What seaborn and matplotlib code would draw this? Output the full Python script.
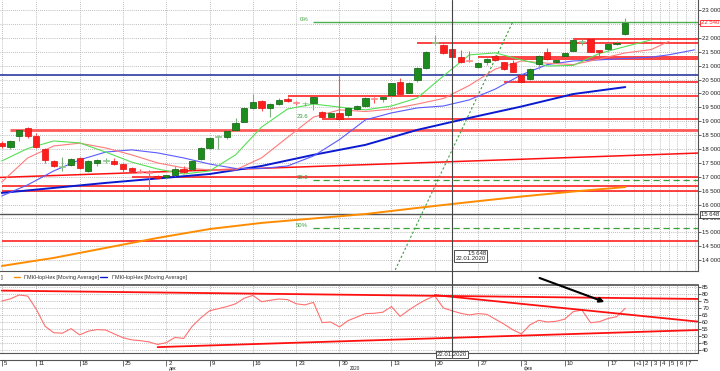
import matplotlib
matplotlib.use("Agg")
import matplotlib.pyplot as plt
import matplotlib.transforms as mtransforms
from matplotlib.lines import Line2D
import seaborn as sns
import pandas as pd
import numpy as np

# daily candles, trading day 0 = 5 Nov 2019 ... 72 = 19 Feb 2020
opens = [18220, 18070, 18470, 18760, 18470, 18000, 17570, 17350, 17430, 17680,
         17210, 17500, 17570, 17570, 17460, 17320, 17210, 17170, 17030, 16990,
         17070, 17280, 17280, 17640, 18040, 18440, 18440, 18690, 18990, 19470,
         19740, 19490, 19610, 19800, 19690, 19640, 19670, 19330, 19160, 19310,
         19230, 19430, 19540, 19840, 19800, 19930, 20410, 20030, 20490, 20910,
         21810, 21750, 21590, 21300, 21190, 20940, 21120, 21360, 21130, 21090,
         20670, 20510, 21050, 21500, 21120, 21350, 21540, 21850, 21950, 21570,
         21590, 21770, 22130]
highs = [18290, 18330, 18720, 18790, 18580, 18040, 17610, 17710, 17680, 17710,
         17610, 17640, 17680, 17680, 17500, 17350, 17280, 17250, 17070, 17080,
         17390, 17390, 17610, 18070, 18430, 18500, 18690, 19130, 19510, 19970,
         19770, 19640, 19850, 19880, 19740, 19700, 19910, 19370, 19310, 20680,
         19500, 19590, 19870, 19880, 19910, 20380, 20540, 20410, 20940, 21540,
         22110, 21780, 21620, 21560, 21540, 21130, 21260, 21380, 21150, 21220,
         20720, 20900, 21380, 21630, 21220, 21480, 22000, 21950, 21980, 21580,
         21800, 21900, 22700]
lows = [18040, 18000, 18290, 18400, 18040, 17500, 17350, 17210, 17390, 17280,
        17170, 17390, 17500, 17430, 17140, 17170, 17120, 16530, 16920, 16960,
        17030, 17140, 17250, 17600, 18000, 18000, 18360, 18650, 18960, 19440,
        19380, 19160, 19590, 19710, 19590, 19550, 19400, 19130, 19130, 19050,
        19160, 19400, 19510, 19640, 19700, 19880, 19970, 20000, 20420, 20880,
        21760, 21420, 21270, 21100, 21150, 20920, 21030, 21180, 20850, 20760,
        20400, 20490, 20870, 21220, 21100, 21330, 21520, 21750, 21490, 21230,
        21540, 21750, 22110]
closes = [18110, 18290, 18690, 18470, 18070, 17600, 17390, 17390, 17640, 17320,
          17570, 17610, 17610, 17460, 17280, 17210, 17170, 17150, 16960, 17050,
          17280, 17170, 17570, 18040, 18400, 18460, 18660, 18930, 19470, 19700,
          19470, 19610, 19770, 19740, 19670, 19660, 19890, 19170, 19290, 19070,
          19470, 19550, 19850, 19810, 19880, 20360, 19990, 20390, 20910, 21510,
          21840, 21450, 21300, 21120, 21170, 21110, 21240, 21200, 20870, 20780,
          20420, 20870, 21360, 21250, 21210, 21450, 21910, 21870, 21500, 21500,
          21780, 21830, 22540]
days = list(range(len(opens)))

# alligator lines (shifted forward past the last candle)
lips_days = list(range(0, 76, 3))
lips_vals = [17570, 18020, 18290, 18220, 17890, 17530, 17280, 17100, 17210, 17790,
             18790, 19440, 19620, 19510, 19410, 19550, 19840, 20630, 21390, 21460,
             21210, 20990, 21010, 21440, 21690, 21930]
teeth_days = list(range(0, 76, 3)) + [77]
teeth_vals = [16810, 17680, 18110, 18210, 18040, 17790, 17500, 17320, 17250, 17250,
              17680, 18420, 19150, 19410, 19350, 19440, 19620, 19820, 20290, 20880,
              21170, 21090, 21040, 21240, 21460, 21580, 21870]
jaw_days = list(range(0, 76, 3)) + [77, 80]
jaw_vals = [16310, 16710, 17210, 17610, 17890, 17970, 17860, 17680, 17460, 17300,
            17300, 17390, 17750, 18340, 19050, 19300, 19480, 19550, 19770, 20160,
            20670, 21040, 21170, 21210, 21260, 21310, 21390, 21570]

# long moving averages
ma_days = list(range(0, 73, 6))
ma_blue = [16420, 16600, 16780, 16940, 17100, 17390, 17790, 18150, 18690, 19120,
           19530, 19980, 20230]
ma_orange = [13790, 14080, 14440, 14800, 15120, 15340, 15500, 15660, 15880, 16090,
             16290, 16470, 16630]

# drawn levels
red_levels = [21960, 21835, 21330, 21240, 20413, 19909, 19081, 18685, 17004,
              16669, 16489, 14689]
red_from = [66, 48, 55, 57, 58, 33, 37, 1, 15, 0, 0, 0]
blue_level = 20683
fib_labels = ["0%", "23.6", "38.2", "50%"]
fib_levels = [22570, 19081, 16885, 15157]
fib_from = 36
slope_days = [0, 80]
slope_vals = [16980, 17850]
fan_days = [45, 59]
fan_vals = [13360, 22570]

# oscillator panel
rsi = [75, 76.5, 79.3, 78.5, 69, 57, 52.4, 52, 55.3, 50.8,
       53.5, 54.6, 54.3, 51.5, 48.8, 47.3, 46.7, 45.8, 44, 45.3,
       49, 48.3, 57, 63, 68, 69.5, 71, 73, 77, 79,
       74.5, 75.5, 76.4, 76, 73, 72.2, 74, 59.6, 60, 56.5,
       61, 63.5, 66, 66.2, 67, 71, 64, 68.5, 72.5, 76,
       78.6, 70, 68, 66.2, 65, 66, 65.5, 62, 58.5, 54.5,
       51.5, 58, 61.2, 60, 60.5, 62, 67.4, 68.5, 59.5, 60.2,
       62.5, 63.8, 69.8]
rsi_lines = [([0, 81], [82.4, 76.4]), ([50, 81], [79.2, 59.9]), ([18, 81], [42.1, 54.4])]

tick_days = [0, 4, 9, 14, 19, 24, 29, 34, 39, 45, 50, 55, 60, 65, 70,
             73, 74, 75, 76, 77, 78, 79]
tick_labels = ["5", "11", "18", "25", "2", "9", "16", "23", "30", "13", "20", "27",
               "3", "10", "17", "+1", "2", "3", "4", "5", "6", "7"]
month_days = [19, 40, 60]
month_labels = ["дек", "2020", "фев"]

cross_day = 52
cross_price = 15648
last_price = 22540

sns.set_theme(style="white")
plt.rcParams["font.family"] = ["Liberation Sans", "DejaVu Sans"]

W, H = 720, 371
fig = plt.figure(figsize=(7.2, 3.71), dpi=100)
ax = fig.add_axes([0, 1 - 271 / H, 698 / W, 271 / H])
ax_rsi = fig.add_axes([0, 1 - 353 / H, 698 / W, 68 / H], sharex=ax)
ax_dt = fig.add_axes([0, 0, 698 / W, 12 / H], sharex=ax)

xmin, xmax = -0.2, 80.4
ax.set_xlim(xmin, xmax)
ax.set_ylim(13609, 23365)
ax_rsi.set_ylim(37.9, 86.4)
ax_dt.set_ylim(0, 1)

fs = 4.3
grid_kw = dict(color="#a8a8a8", ls=(0, (1, 1.5)), lw=0.6)
for a in (ax, ax_rsi):
    a.set_xticks(tick_days + [80])
    a.tick_params(axis="x", length=0, labelbottom=False)
    a.grid(True, **grid_kw)
    a.yaxis.tick_right()
    a.tick_params(axis="y", length=2, width=0.5, pad=1, labelsize=fs, colors="#222222")
    for s in ("top", "left"):
        a.spines[s].set_visible(False)
    for s in ("right", "bottom"):
        a.spines[s].set_color("#555555")
        a.spines[s].set_linewidth(0.8)
ax_rsi.spines["top"].set_visible(True)
ax_rsi.spines["top"].set_color("#555555")

# the last-price tag sits on top of the 22 500 label, so that one is left blank
price_ticks = list(range(14000, 23001, 500))
ax.set_yticks(price_ticks)
ax.set_yticklabels(["" if abs(v - last_price) < 150 else f"{v:,}".replace(",", " ")
                    for v in price_ticks])
ax_rsi.set_yticks(range(40, 86, 5))

# horizontal levels
ax.axhline(blue_level, color="#1a2a9a", lw=1.1, zorder=2)
for p, d0 in zip(red_levels, red_from):
    col, lw = ("#ff5a5a", 2.0) if p == 18685 else ("#ff1010", 1.1)
    ax.hlines(p, d0, xmax + 1, color=col, lw=lw, zorder=2)
ax.axline((slope_days[0], slope_vals[0]), (slope_days[1], slope_vals[1]),
          color="#ff1010", lw=1.1, zorder=2)
for lab, p in zip(fib_labels, fib_levels):
    if lab == "0%":
        ax.hlines(p, fib_from, xmax + 1, color="#4caf50", lw=1.0, zorder=2)
    elif lab != "23.6":
        ax.hlines(p, fib_from, xmax + 1, color="#3aa03a", lw=0.9, ls=(0, (5, 3)), zorder=2)
    ax.annotate(lab, (fib_from - 0.6, p), xytext=(0, 2), textcoords="offset points",
                ha="right", va="center", fontsize=fs, color="#3a9a3a")
ax.plot(fan_days, fan_vals, color="#3aa03a", lw=0.8, ls=(0, (2, 2)), zorder=2)

# crosshair
ax.axhline(cross_price, color="#555555", lw=1.0, zorder=2)
blend = mtransforms.blended_transform_factory(ax.transData, fig.transFigure)
fig.add_artist(Line2D([cross_day, cross_day], [1 - 357 / H, 1], transform=blend,
                      color="#444444", lw=0.8, zorder=1))

# moving averages
sns.lineplot(x=ma_days, y=ma_orange, ax=ax, color="#ff8c00", lw=1.4, zorder=3)
sns.lineplot(x=ma_days, y=ma_blue, ax=ax, color="#0a1ad0", lw=1.4, zorder=3)
sns.lineplot(x=jaw_days, y=jaw_vals, ax=ax, color="#5a5aff", lw=0.8, zorder=3)
sns.lineplot(x=teeth_days, y=teeth_vals, ax=ax, color="#ff7a7a", lw=0.8, zorder=3)
sns.lineplot(x=lips_days, y=lips_vals, ax=ax, color="#55e055", lw=0.8, zorder=3)

# candles
df = pd.DataFrame({"day": days, "open": opens, "high": highs, "low": lows, "close": closes})
up = df["close"] >= df["open"]
small = (df["close"] - df["open"]).abs() < 60
body_col = np.where(up, np.where(small, "#8fc88f", "#1c8c1c"), np.where(small, "#ff8a8a", "#ff1e1e"))
edge_col = np.where(up, np.where(small, "#8fc88f", "#0d5f0d"), np.where(small, "#ff8a8a", "#e01010"))
wick_col = np.where(up, "#7fae7f", "#ff5050")
ax.vlines(df["day"], df["low"], df["high"], colors=wick_col, lw=0.8, zorder=4)
ax.bar(df["day"], (df["close"] - df["open"]).abs().clip(lower=35),
       bottom=df[["open", "close"]].min(axis=1), width=0.72,
       color=body_col, edgecolor=edge_col, lw=0.5, zorder=5)

# price tags on the right
rblend = mtransforms.blended_transform_factory(ax.transAxes, ax.transData)
ax.text(1.004, cross_price, "15 648", transform=rblend, fontsize=fs, va="center",
        ha="left", clip_on=False, zorder=6,
        bbox=dict(boxstyle="square,pad=0.15", fc="white", ec="#333333", lw=0.6))
ax.text(1.004, last_price, f"{last_price:,}".replace(",", " "), transform=rblend,
        fontsize=fs, va="center", ha="left", color="#ff2020", clip_on=False, zorder=6,
        bbox=dict(boxstyle="square,pad=0.15", fc="white", ec="#ff2020", lw=0.6))
ax.text(cross_day + 0.4, 14330, "15 648\n22.01.2020", fontsize=fs, va="top", ha="left",
        multialignment="right", linespacing=1.0, zorder=6,
        bbox=dict(boxstyle="square,pad=0.2", fc="white", ec="#333333", lw=0.6))

# legend row
ly = 1 - 277 / H
fig.text(1 / W, ly, "]", fontsize=fs, va="center", color="#333333")
fig.add_artist(Line2D([14 / W, 20 / W], [ly, ly], color="#ff8c00", lw=1.0))
fig.text(24 / W, ly, "ГМКНорНик [Moving Average]", fontsize=4, va="center", color="#333333")
fig.add_artist(Line2D([100 / W, 107 / W], [ly, ly], color="#0a1ad0", lw=1.0))
fig.text(112 / W, ly, "ГМКНорНик [Moving Average]", fontsize=4, va="center", color="#333333")

# oscillator
sns.lineplot(x=days, y=rsi, ax=ax_rsi, color="#ff7070", lw=0.8, zorder=3)
for xs, ys in rsi_lines:
    ax_rsi.plot(xs, ys, color="#ff1010", lw=1.3, zorder=4)
ax_rsi.annotate("", xy=(69.9, 73.6), xytext=(61.8, 92.1),
                arrowprops=dict(arrowstyle="-|>", color="black", lw=1.5, mutation_scale=7),
                annotation_clip=False, zorder=7)
ax_rsi.text(cross_day, 1 - 354.5 / H, "22.01.2020",
            transform=mtransforms.blended_transform_factory(ax_rsi.transData, fig.transFigure),
            fontsize=fs, ha="center", va="center", clip_on=False, zorder=6,
            bbox=dict(boxstyle="square,pad=0.12", fc="white", ec="#333333", lw=0.6))

# date strip: day numbers, month names underneath
ax_dt.axis("off")
ax_dt.add_artist(Line2D([0, 1], [0.92, 0.92], transform=ax_dt.transAxes, color="#555555", lw=0.8))
ax_dt.vlines(tick_days, 0.4, 0.9, color="#555555", lw=0.6)
for d, lab in zip(tick_days, tick_labels):
    ax_dt.text(d + 0.25, 0.66, lab, fontsize=fs, ha="left", va="center", color="#222222")
for d, lab in zip(month_days, month_labels):
    ax_dt.text(d + 0.25, 0.02, lab, fontsize=3.3, ha="left", va="bottom", color="#222222")

fig.savefig("out.png", dpi=100, facecolor="white")
